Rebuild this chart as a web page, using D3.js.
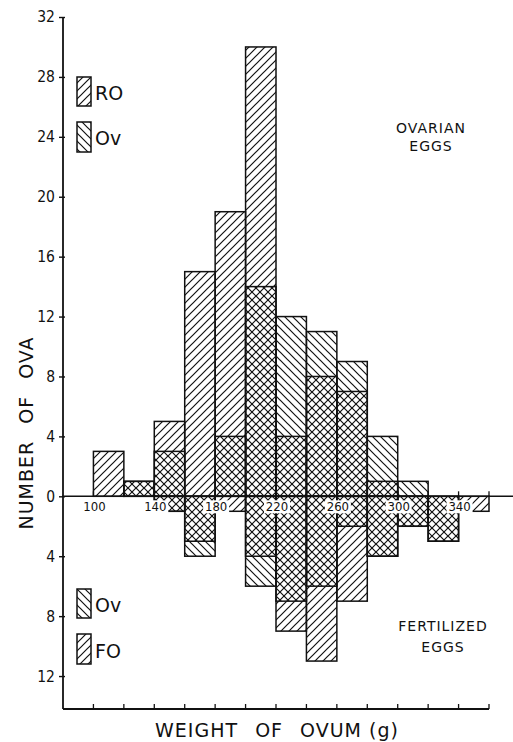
<!DOCTYPE html>
<html>
<head>
<meta charset="utf-8">
<script src="https://cdn.jsdelivr.net/npm/d3@7"></script>
<style>
  html, body { margin: 0; padding: 0; background: #fff; }
  svg { display: block; }
  text { font-family: "DejaVu Sans", sans-serif; font-stretch: condensed; fill: #111; }
</style>
</head>
<body>
<svg id="chart" width="513" height="742"></svg>
<script>
// Bin lower edges (g); each bin spans 20 g
const binStarts = [100, 120, 140, 160, 180, 200, 220, 240, 260, 280, 300, 320, 340];
const binWidth = 20;

// Ovarian eggs (plotted upward)
const ovarianRO = [3, 1, 5, 15, 19, 30, 4, 8, 7, 1, 0, 0, 0];
const ovarianOv = [0, 1, 3, 0, 4, 14, 12, 11, 9, 4, 1, 0, 0];

// Fertilized eggs (plotted downward)
const fertilizedOv = [0, 0, 1, 4, 0, 6, 7, 6, 2, 4, 2, 3, 0];
const fertilizedFO = [0, 0, 1, 3, 1, 4, 9, 11, 7, 4, 2, 3, 1];

// Axis ticks
const yTicks = [-12, -8, -4, 0, 4, 8, 12, 16, 20, 24, 28, 32];
const xTickLabels = [100, 140, 180, 220, 260, 300, 340];
const xTicks = [100, 120, 140, 160, 180, 200, 220, 240, 260, 280, 300, 320, 340, 360];

const svg = d3.select("#chart");

const x = d3.scaleLinear().domain([80, 360]).range([63, 489]);
const y = d3.scaleLinear().domain([-14.2, 32]).range([709, 17]);

// Hatch patterns: "fwd" = ///, "back" = \\\
const defs = svg.append("defs");
const s = 8;
defs.append("pattern")
  .attr("id", "fwd").attr("patternUnits", "userSpaceOnUse")
  .attr("width", s).attr("height", s)
  .append("path")
  .attr("d", `M0,${s} L${s},0 M${-s/2},${s/2} L${s/2},${-s/2} M${s/2},${s*1.5} L${s*1.5},${s/2}`)
  .attr("stroke", "#111").attr("stroke-width", 1.2);
defs.append("pattern")
  .attr("id", "back").attr("patternUnits", "userSpaceOnUse")
  .attr("width", s).attr("height", s)
  .append("path")
  .attr("d", `M0,0 L${s},${s} M${-s/2},${s/2} L${s/2},${s*1.5} M${s/2},${-s/2} L${s*1.5},${s/2}`)
  .attr("stroke", "#111").attr("stroke-width", 1.2);

// Zero baseline with small ticks at bin edges
svg.append("line")
  .attr("x1", x(80) - 1).attr("x2", 513)
  .attr("y1", y(0)).attr("y2", y(0))
  .attr("stroke", "#111").attr("stroke-width", 1.6);
svg.append("g").selectAll("line").data(xTicks).join("line")
  .attr("x1", d => x(d)).attr("x2", d => x(d))
  .attr("y1", y(0)).attr("y2", y(0) - 5)
  .attr("stroke", "#111").attr("stroke-width", 1.3);

// Overlapping histogram bars: each series drawn transparent-hatched from zero,
// so the overlap reads as cross-hatching.
function drawSeries(values, pattern, sign) {
  svg.append("g").selectAll("rect")
    .data(binStarts.map((b, i) => ({ b, v: values[i] })).filter(d => d.v > 0))
    .join("rect")
    .attr("x", d => x(d.b))
    .attr("width", d => x(d.b + binWidth) - x(d.b))
    .attr("y", d => sign > 0 ? y(d.v) : y(0))
    .attr("height", d => Math.abs(y(sign * d.v) - y(0)))
    .attr("fill", `url(#${pattern})`)
    .attr("stroke", "#111")
    .attr("stroke-width", 1.5);
}
drawSeries(ovarianRO, "fwd", 1);
drawSeries(ovarianOv, "back", 1);
drawSeries(fertilizedOv, "back", -1);
drawSeries(fertilizedFO, "fwd", -1);

// Y axis
const yAxis = d3.axisLeft(y)
  .tickValues(yTicks)
  .tickFormat(d => Math.abs(d))
  .tickSize(4)
  .tickPadding(4);
const gy = svg.append("g").attr("transform", `translate(${x(80)},0)`).call(yAxis);
gy.select(".domain").remove();
gy.selectAll(".tick line").attr("stroke", "#111").attr("stroke-width", 1.4).attr("x2", -4).attr("x1", 2);
gy.selectAll(".tick text").attr("font-size", 15.5).attr("fill", "#111")
  .style("font-family", "'DejaVu Sans', sans-serif").style("font-stretch", "condensed");
svg.append("line")
  .attr("x1", x(80)).attr("x2", x(80))
  .attr("y1", y(32)).attr("y2", y(-14.2))
  .attr("stroke", "#111").attr("stroke-width", 1.8);

// Bottom axis line with upward ticks
svg.append("line")
  .attr("x1", x(80)).attr("x2", x(360))
  .attr("y1", y(-14.2)).attr("y2", y(-14.2))
  .attr("stroke", "#111").attr("stroke-width", 1.8);
svg.append("g").selectAll("line").data(xTicks).join("line")
  .attr("x1", d => x(d)).attr("x2", d => x(d))
  .attr("y1", y(-14.2)).attr("y2", y(-14.2) - 5)
  .attr("stroke", "#111").attr("stroke-width", 1.3);

// Weight labels set just under the zero line, knocked out of the hatching
const lab = svg.append("g").selectAll("g").data(xTickLabels).join("g")
  .attr("transform", d => `translate(${x(d) + 1},${y(0) + 15})`);
lab.append("rect")
  .attr("x", -13).attr("y", -11).attr("width", 26).attr("height", 13)
  .attr("fill", "#fff");
lab.append("text")
  .attr("text-anchor", "middle")
  .attr("font-size", 13)
  .text(d => d);

// Legends
function legendItem(yTop, h, pattern, label, baseline) {
  svg.append("rect")
    .attr("x", 77).attr("y", yTop).attr("width", 14).attr("height", h)
    .attr("fill", `url(#${pattern})`).attr("stroke", "#111").attr("stroke-width", 1.5);
  svg.append("text")
    .attr("x", 95).attr("y", baseline)
    .attr("font-size", 19)
    .style("font-stretch", "normal")
    .text(label);
}
legendItem(77, 29, "fwd", "RO", 100);
legendItem(122, 30, "back", "Ov", 145);
legendItem(589, 29, "back", "Ov", 612);
legendItem(634, 30, "fwd", "FO", 658);

// Panel captions
function caption(lines, cx, y0, dy) {
  lines.forEach((t, i) => {
    svg.append("text")
      .attr("x", cx).attr("y", y0 + i * dy)
      .attr("text-anchor", "middle")
      .attr("font-size", 14)
      .attr("letter-spacing", 1)
      .style("font-stretch", "normal")
      .text(t);
  });
}
caption(["OVARIAN", "EGGS"], 431, 133, 18);
caption(["FERTILIZED", "EGGS"], 443, 631, 21);

// Axis titles
svg.append("text")
  .attr("transform", `translate(33,433) rotate(-90)`)
  .attr("text-anchor", "middle")
  .attr("font-size", 19)
  .attr("letter-spacing", 1)
  .attr("word-spacing", 10)
  .style("font-stretch", "normal")
  .text("NUMBER OF OVA");
const xTitle = svg.append("text")
  .attr("x", 277).attr("y", 737)
  .attr("text-anchor", "middle")
  .attr("font-size", 19)
  .attr("letter-spacing", 1)
  .style("font-stretch", "normal");
xTitle.append("tspan").attr("word-spacing", 10).text("WEIGHT OF OVUM");
xTitle.append("tspan").attr("word-spacing", 0).text(" (g)");
</script>
</body>
</html>
